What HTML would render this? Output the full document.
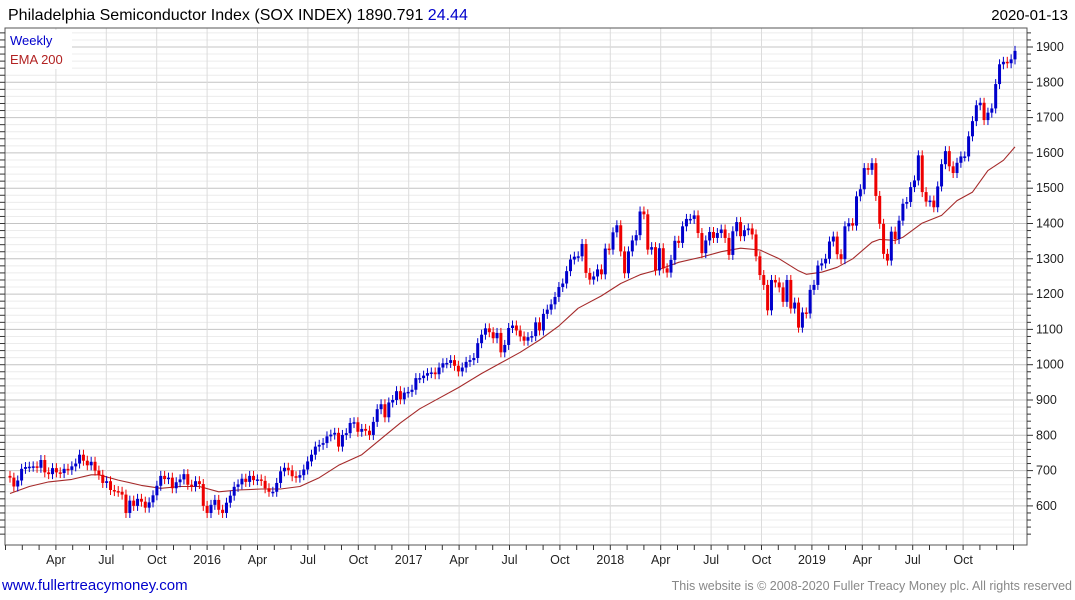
<!DOCTYPE html>
<html><head><meta charset="utf-8"><style>
body{margin:0;background:#fff;font-family:"Liberation Sans",sans-serif}
svg{display:block}
</style></head><body>
<svg id="c" width="1075" height="600" xmlns="http://www.w3.org/2000/svg">
<text x="8" y="20" font-size="16" fill="#000">Philadelphia Semiconductor Index (SOX INDEX) 1890.791 <tspan fill="#0000cc">24.44</tspan></text>
<text x="1068" y="20" font-size="15" fill="#000" text-anchor="end">2020-01-13</text>
<g id="grid"></g>
<g id="ema"></g>
<g id="candles"></g>
<rect x="5" y="28" width="1022" height="517" fill="none" stroke="#555" stroke-width="1"/>
<g id="axes"></g>
<rect x="6" y="30" width="66" height="39" fill="#fff"/>
<text x="10" y="45" font-size="13" fill="#0000cc">Weekly</text>
<text x="10" y="64" font-size="13" fill="#b22222">EMA 200</text>
<text x="2" y="590" font-size="15" fill="#0000cc">www.fullertreacymoney.com</text>
<text x="1072" y="590" font-size="12.5" fill="#888" text-anchor="end">This website is © 2008-2020 Fuller Treacy Money plc. All rights reserved</text>
</svg>
<script>
const closes=[680,655,672,705,710,711,712,708,730,695,690,707,695,693,705,702,712,720,745,728,715,725,700,688,665,670,645,642,640,632,580,615,600,620,612,595,610,630,657,685,676,680,650,667,675,690,660,655,670,662,600,
580,603,617,589,580,609,629,654,661,677,668,685,673,675,671,650,640,640,665,698,708,701,684,680,687,703,726,745,768,773,778,797,802,807,768,801,806,835,837,810,818,813,801,838,874,888,851,893,900,925,902,921,923,
929,962,962,969,976,978,973,992,1004,1005,1013,997,981,992,1008,1013,1019,1061,1085,1103,1092,1075,1090,1035,1056,1104,1111,1097,1080,1068,1078,1081,1120,1097,1144,1156,1171,1192,1220,1230,1265,1298,1306,1307,1342,1260,1241,1250,1270,1256,
1329,1326,1375,1395,1321,1259,1321,1352,1367,1434,1426,1326,1333,1267,1330,1273,1261,1297,1351,1345,1392,1413,1413,1423,1373,1316,1352,1376,1359,1373,1383,1359,1311,1378,1404,1364,1381,1386,1369,1307,1254,1226,1154,1240,1233,1219,1178,1240,1159,1176,1105,
1148,1145,1212,1226,1281,1287,1300,1349,1363,1313,1299,1392,1401,1394,1477,1497,1557,1552,1571,1478,1399,1314,1295,1377,1356,1408,1456,1461,1503,1522,1593,1489,1462,1465,1446,1505,1568,1605,1562,1543,1572,1590,1590,1647,1690,1735,1742,1693,1714,1726,1795,1851,1858,1854,1865,1889];
const emaWeeks=[0,5,10,16,21,23,28,34,39,44,49,54,59,65,70,75,80,85,91,96,101,106,111,116,122,127,132,137,142,147,153,158,163,168,173,179,184,189,194,199,204,206,210,214,218,223,225,229,231,236,241,245,249,253,257,260];
const emaValues=[635,655,668,675,688,688,673,658,650,655,655,640,645,648,648,655,680,715,745,790,835,875,905,935,975,1005,1035,1070,1110,1160,1195,1230,1255,1270,1290,1305,1320,1330,1325,1300,1266,1256,1262,1276,1300,1347,1355,1352,1361,1401,1423,1465,1489,1550,1579,1617];
const yTicks=[600,700,800,900,1000,1100,1200,1300,1400,1500,1600,1700,1800,1900];
const xLabels=["Apr","Jul","Oct","2016","Apr","Jul","Oct","2017","Apr","Jul","Oct","2018","Apr","Jul","Oct","2019","Apr","Jul","Oct"];
const NS="http://www.w3.org/2000/svg";
const X0=10,X1=1015;
const xs=i=>X0+i*(X1-X0)/(closes.length-1);
const ys=p=>47+(1900-p)*0.353;
function mk(t,a,parent){const e=document.createElementNS(NS,t);for(const k in a)e.setAttribute(k,a[k]);document.getElementById(parent).appendChild(e);return e;}
for(let p=520;p<=1960;p+=20){const y=ys(p);if(y<29||y>544)continue;
 const g=mk('line',{x1:5,x2:1027,y1:y,y2:y,stroke:p%100===0?'#c4c4c4':'#ececec','stroke-width':1},'grid');
 
 
 const t=mk('line',{x1:1027,x2:p%100===0?1033:1031,y1:y,y2:y,stroke:'#333'},'axes');
 
 
 const t2=mk('line',{x1:0,x2:5,y1:y,y2:y,stroke:'#333'},'axes');
 
 }
yTicks.forEach(p=>{const t=mk('text',{x:1036,y:ys(p)+4,'font-size':12.5,fill:'#222'},'axes');t.textContent=p;
 
 });
const mpx=50.4/3;
for(let m=0;m<61;m++){const xm=5.5+m*mpx;
 const t=mk('line',{x1:xm,x2:xm,y1:545,y2:550,stroke:'#333'},'axes');
 
 
 if(m%3===0&&m>0){const g=mk('line',{x1:xm,x2:xm,y1:28,y2:545,stroke:'#dcdcdc'},'grid');
  
  
  const lab=xLabels[m/3-1];if(lab){const tx=mk('text',{x:xm,y:564,'font-size':12.5,fill:'#222','text-anchor':'middle'},'axes');tx.textContent=lab;
  
  }}}
const pts=emaWeeks.map((w,i)=>xs(w).toFixed(1)+','+ys(emaValues[i]).toFixed(1)).join(' ');
const el=mk('polyline',{points:pts,fill:'none',stroke:'#a52a2a','stroke-width':1.1,'stroke-linejoin':'round'},'ema');


closes.forEach((c,i)=>{const o=i?closes[i-1]:c+5;const up=c>=o;const col=up?'#0000cc':'#ee0000';
 const x=xs(i);const yt=ys(Math.max(o,c)),yb=ys(Math.min(o,c));
 const w=mk('line',{x1:x,x2:x,y1:yt-5,y2:yb+5,stroke:col,'stroke-width':1},'candles');
 
 
 const b=mk('rect',{x:x-1.5,y:yt,width:3,height:Math.max(1.5,yb-yt),fill:col},'candles');
 
 });
</script>
</body></html>
